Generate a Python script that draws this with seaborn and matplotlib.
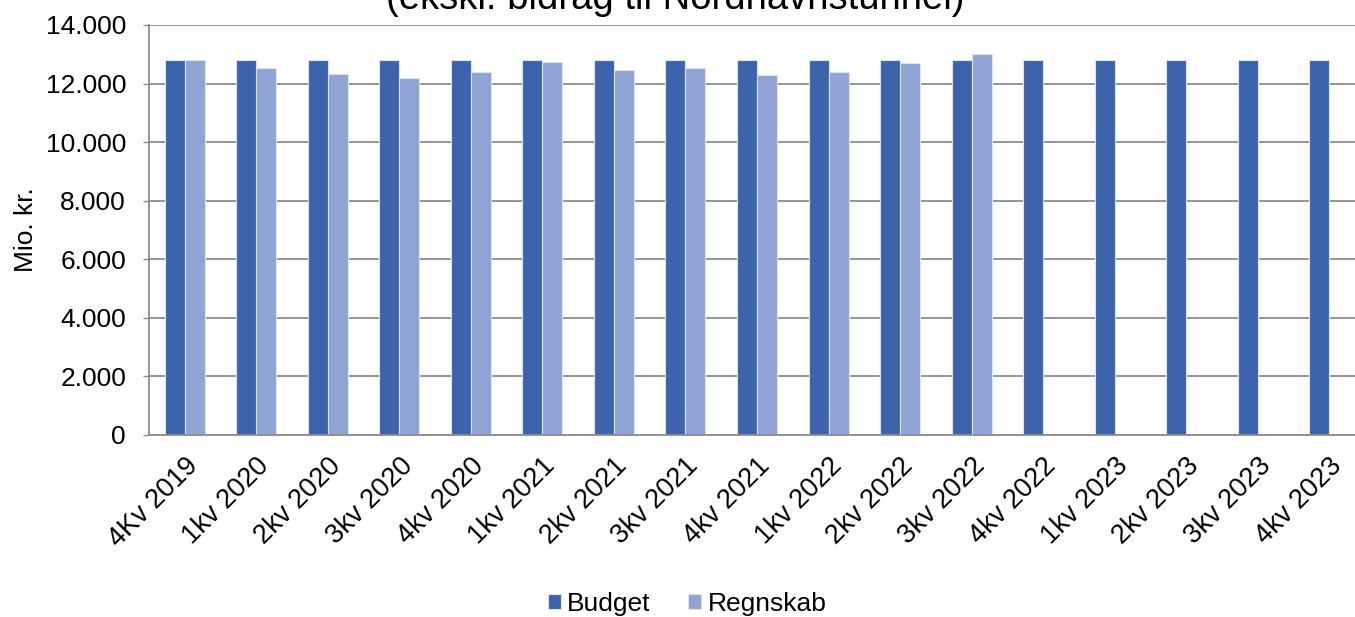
import matplotlib
matplotlib.use("Agg")
import matplotlib.pyplot as plt
import matplotlib.ticker as mticker
import seaborn as sns
import pandas as pd
import numpy as np

categories = ["4Kv 2019", "1kv 2020", "2kv 2020", "3kv 2020", "4kv 2020",
              "1kv 2021", "2kv 2021", "3kv 2021", "4kv 2021", "1kv 2022",
              "2kv 2022", "3kv 2022", "4kv 2022", "1kv 2023", "2kv 2023",
              "3kv 2023", "4kv 2023"]
budget = [12820] * 17
regnskab = [12820, 12540, 12340, 12200, 12405, 12725, 12450, 12520, 12290,
            12385, 12710, 13010]
series_names = ["Budget", "Regnskab"]
yticks = [0, 2000, 4000, 6000, 8000, 10000, 12000, 14000]
title_text = "(ekskl. bidrag til Nordhavnstunnel)"
ylabel_text = "Mio. kr."

rows = []
for c, v in zip(categories, budget):
    rows.append({"kvartal": c, "serie": "Budget", "value": v})
for c, v in zip(categories, regnskab):
    rows.append({"kvartal": c, "serie": "Regnskab", "value": v})
df = pd.DataFrame(rows)

sns.set_theme(style="white")
plt.rcParams["font.family"] = ["Liberation Sans", "DejaVu Sans"]

W, H = 1355, 617
fig = plt.figure(figsize=(W / 100, H / 100), dpi=100)
ax = fig.add_axes([149 / W, (H - 435) / H, (1365 - 149) / W, (435 - 25) / H])

sns.barplot(data=df, x="kvartal", y="value", hue="serie",
            order=categories, hue_order=series_names,
            palette=["#3C64AC", "#8FA4D4"], saturation=1, width=0.56,
            edgecolor="#DCE3F2", linewidth=0.8, ax=ax, legend=True)

ax.set_ylim(0, 14000)
ax.set_xlim(-0.5, len(categories) - 0.5)
ax.set_yticks(yticks)
ax.yaxis.set_major_formatter(mticker.FuncFormatter(lambda v, p: f"{int(v):,}".replace(",", ".")))
ax.grid(axis="y", color="#8C8C8C", linewidth=1.3)
ax.set_axisbelow(True)
for s in ["top", "right"]:
    ax.spines[s].set_visible(False)
ax.spines["left"].set_color("#8C8C8C")
ax.spines["left"].set_linewidth(1.3)
ax.spines["bottom"].set_color("#8C8C8C")
ax.spines["bottom"].set_linewidth(1.3)
ax.tick_params(axis="y", which="major", left=True, length=4.5, width=1.0, color="#8C8C8C",
               labelsize=19, pad=12, labelcolor="black")
ax.tick_params(axis="x", bottom=False, labelsize=19.5, pad=7, labelcolor="black")
plt.setp(ax.get_xticklabels(), rotation=45, ha="right", va="top", rotation_mode="anchor")
ax.set_xlabel("")
ax.set_ylabel(ylabel_text, fontsize=19, color="black")
ax.yaxis.set_label_coords((38 - 149) / 1216, 0.5)

leg = ax.legend(loc="center", bbox_to_anchor=(687 / W, 1 - 604 / H),
                bbox_transform=fig.transFigure, ncol=2, frameon=False,
                fontsize=19, handlelength=0.5, handleheight=0.5,
                handletextpad=0.25, columnspacing=1.4, borderaxespad=0)
for t in leg.get_texts():
    t.set_color("black")

fig.text(675 / W, 1 - 9 / H, title_text, ha="center", va="baseline", fontsize=27.5, color="black")

fig.savefig("out.png", dpi=100)
